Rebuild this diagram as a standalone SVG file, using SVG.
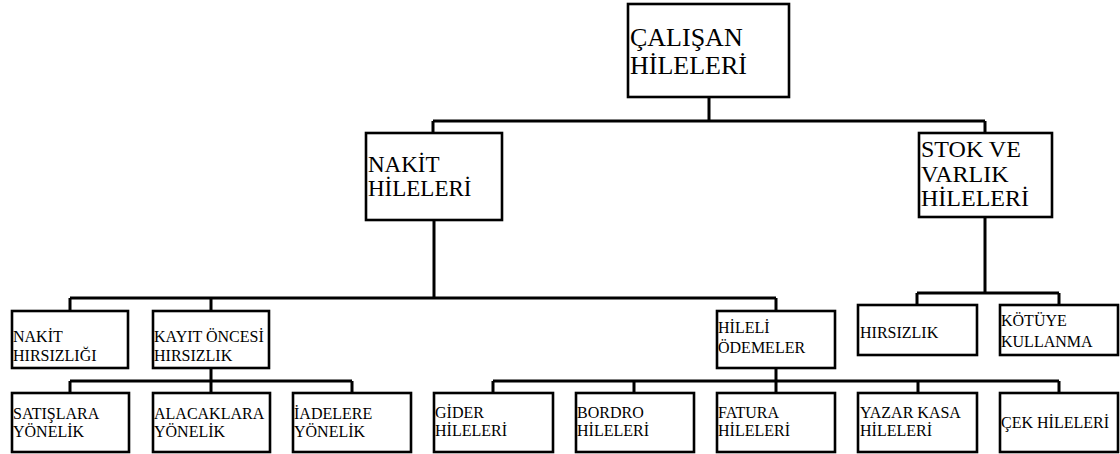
<svg xmlns="http://www.w3.org/2000/svg" width="1120" height="454" viewBox="0 0 1120 454">
<rect width="1120" height="454" fill="#fff"/>
<g id="connectors" fill="none" stroke="#000" stroke-width="3">
<path d="M709,97 V121 M433,121 H985 M433,121 V133 M985,121 V133"/>
<path d="M434,220 V298 M70,298 H776 M70,298 V311 M211,298 V311 M776,298 V311"/>
<path d="M985,217 V293 M917,293 H1059 M917,293 V305 M1059,293 V305"/>
<path d="M211,368 V381 M70,381 H352 M70,381 V393 M211,381 V393 M352,381 V393"/>
<path d="M776,368 V381 M493,381 H1059 M493,381 V393 M634,381 V393 M776,381 V393 M918,381 V393 M1059,381 V393"/>
</g>
<g id="calisan"><rect x="628" y="4" width="161" height="93" fill="#fff" stroke="#000" stroke-width="2.6"/><text font-family="serif" font-size="26" x="630" y="46">ÇALIŞAN</text><text font-family="serif" font-size="26" x="630" y="74">HİLELERİ</text></g>
<g id="nakit"><rect x="366" y="133" width="136" height="87" fill="#fff" stroke="#000" stroke-width="2.6"/><text font-family="serif" font-size="23" x="368" y="172">NAKİT</text><text font-family="serif" font-size="23" x="368" y="196">HİLELERİ</text></g>
<g id="stok"><rect x="919" y="133" width="133" height="84" fill="#fff" stroke="#000" stroke-width="2.6"/><text font-family="serif" font-size="24" x="921" y="157">STOK VE</text><text font-family="serif" font-size="24" x="921" y="182">VARLIK</text><text font-family="serif" font-size="24" x="921" y="206">HİLELERİ</text></g>
<g id="nakit-hirsizligi"><rect x="12" y="311" width="116" height="57" fill="#fff" stroke="#000" stroke-width="2.6"/><text font-family="serif" font-size="16" x="13" y="342">NAKİT</text><text font-family="serif" font-size="16" x="13" y="361">HIRSIZLIĞI</text></g>
<g id="kayit-oncesi"><rect x="153" y="311" width="116" height="57" fill="#fff" stroke="#000" stroke-width="2.6"/><text font-family="serif" font-size="16" x="154" y="342">KAYIT ÖNCESİ</text><text font-family="serif" font-size="16" x="154" y="361">HIRSIZLIK</text></g>
<g id="hileli-odemeler"><rect x="717" y="311" width="118" height="57" fill="#fff" stroke="#000" stroke-width="2.6"/><text font-family="serif" font-size="16" x="718" y="333">HİLELİ</text><text font-family="serif" font-size="16" x="718" y="353">ÖDEMELER</text></g>
<g id="hirsizlik"><rect x="858" y="305" width="119" height="50" fill="#fff" stroke="#000" stroke-width="2.6"/><text font-family="serif" font-size="16" x="860" y="338">HIRSIZLIK</text></g>
<g id="kotuye"><rect x="1000" y="305" width="118" height="50" fill="#fff" stroke="#000" stroke-width="2.6"/><text font-family="serif" font-size="16" x="1001" y="326">KÖTÜYE</text><text font-family="serif" font-size="16" x="1001" y="347">KULLANMA</text></g>
<g id="satislara"><rect x="12" y="393" width="117" height="59" fill="#fff" stroke="#000" stroke-width="2.6"/><text font-family="serif" font-size="16" x="13" y="419">SATIŞLARA</text><text font-family="serif" font-size="16" x="13" y="437">YÖNELİK</text></g>
<g id="alacaklara"><rect x="153" y="393" width="117" height="59" fill="#fff" stroke="#000" stroke-width="2.6"/><text font-family="serif" font-size="16" x="154" y="419">ALACAKLARA</text><text font-family="serif" font-size="16" x="154" y="437">YÖNELİK</text></g>
<g id="iadelere"><rect x="293" y="393" width="118" height="59" fill="#fff" stroke="#000" stroke-width="2.6"/><text font-family="serif" font-size="16" x="294" y="419">İADELERE</text><text font-family="serif" font-size="16" x="294" y="437">YÖNELİK</text></g>
<g id="gider"><rect x="434" y="393" width="119" height="59" fill="#fff" stroke="#000" stroke-width="2.6"/><text font-family="serif" font-size="16" x="435" y="418">GİDER</text><text font-family="serif" font-size="16" x="435" y="436">HİLELERİ</text></g>
<g id="bordro"><rect x="576" y="393" width="118" height="59" fill="#fff" stroke="#000" stroke-width="2.6"/><text font-family="serif" font-size="16" x="577" y="418">BORDRO</text><text font-family="serif" font-size="16" x="577" y="436">HİLELERİ</text></g>
<g id="fatura"><rect x="717" y="393" width="118" height="59" fill="#fff" stroke="#000" stroke-width="2.6"/><text font-family="serif" font-size="16" x="718" y="418">FATURA</text><text font-family="serif" font-size="16" x="718" y="436">HİLELERİ</text></g>
<g id="yazar-kasa"><rect x="858" y="393" width="119" height="59" fill="#fff" stroke="#000" stroke-width="2.6"/><text font-family="serif" font-size="16" x="860" y="418">YAZAR KASA</text><text font-family="serif" font-size="16" x="860" y="436">HİLELERİ</text></g>
<g id="cek"><rect x="1000" y="393" width="118" height="59" fill="#fff" stroke="#000" stroke-width="2.6"/><text font-family="serif" font-size="16" x="1001" y="428">ÇEK HİLELERİ</text></g>
</svg>
